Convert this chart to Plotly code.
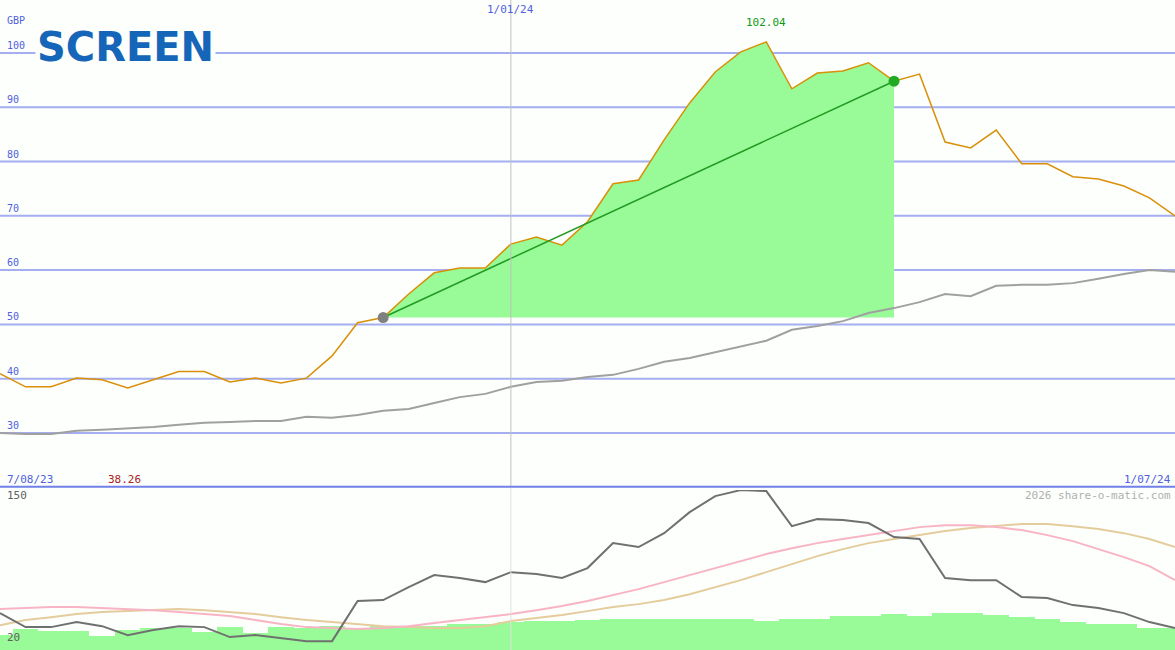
import pandas as pd
import plotly.graph_objects as go

dates = pd.date_range("2023-08-14", periods=47, freq="7D")

price = [40.9, 38.5, 38.5, 40.1, 39.8, 38.3, 39.8, 41.3, 41.3, 39.4, 40.1, 39.2, 40.1, 44.2, 50.3, 51.26,
         55.6, 59.5, 60.4, 60.4, 64.8, 66.1, 64.6, 68.9, 75.9, 76.6, 84.0, 90.8, 96.5, 100.2, 102.04,
         93.4, 96.3, 96.7, 98.2, 94.8, 96.1, 83.6, 82.5, 85.8, 79.6, 79.6, 77.2, 76.8, 75.5, 73.3, 70.0]
avg = [30.0, 29.8, 29.8, 30.4, 30.6, 30.8, 31.1, 31.5, 31.9, 32.0, 32.2, 32.2, 33.0, 32.8, 33.3, 34.1,
       34.4, 35.5, 36.6, 37.2, 38.5, 39.4, 39.6, 40.3, 40.7, 41.8, 43.1, 43.8, 44.9, 45.9, 47.0,
       49.0, 49.7, 50.6, 52.1, 53.0, 54.1, 55.6, 55.2, 57.1, 57.3, 57.3, 57.6, 58.4, 59.3, 60.0, 59.7]
osc = [50.0, 38.6, 38.6, 42.7, 39.4, 32.1, 36.2, 39.4, 38.6, 30.5, 32.1, 29.7, 27.2, 27.2, 59.8, 60.6,
       71.1, 80.9, 78.5, 75.2, 83.3, 81.7, 78.5, 86.6, 106.9, 103.7, 115.0, 132.1, 145.1, 150.0, 149.2,
       120.7, 126.4, 125.6, 123.2, 111.8, 110.2, 78.5, 76.8, 76.8, 63.0, 62.2, 56.5, 54.1, 50.0, 42.7, 37.8]
osc_fast = [53.3, 54.1, 54.9, 54.9, 54.1, 53.3, 52.4, 50.8, 49.2, 47.6, 44.3, 41.1, 38.6, 37.8, 37.0, 37.8,
            39.4, 41.9, 44.3, 46.7, 49.2, 52.4, 55.7, 59.8, 64.6, 69.5, 75.2, 80.9, 86.6, 92.3, 98.0,
            102.8, 106.9, 110.2, 113.4, 116.7, 119.9, 121.5, 121.5, 119.9, 117.5, 113.4, 108.5, 102.0, 95.5, 88.2, 76.8]
osc_slow = [40.2, 44.3, 46.7, 49.2, 50.8, 51.6, 52.4, 53.3, 52.4, 50.8, 49.2, 46.7, 44.3, 42.7, 41.1, 39.4,
            38.6, 37.8, 37.8, 39.4, 43.5, 45.9, 48.4, 51.6, 54.9, 57.3, 60.6, 65.4, 71.1, 76.8, 83.3,
            89.8, 96.3, 102.0, 106.9, 110.2, 113.4, 116.7, 119.1, 120.7, 122.4, 122.4, 120.7, 118.3, 115.0, 110.2, 103.7]
volume = [32.1, 37.0, 35.4, 35.4, 31.3, 36.2, 37.8, 37.8, 34.5, 38.6, 33.7, 38.6, 37.8, 39.4, 37.8, 39.4,
          39.4, 39.4, 41.1, 41.1, 42.7, 43.5, 43.5, 44.3, 45.1, 45.1, 45.1, 45.1, 45.1, 45.1, 43.5,
          45.1, 45.1, 47.6, 47.6, 49.2, 47.6, 50.0, 50.0, 48.4, 46.7, 45.1, 42.7, 41.1, 41.1, 37.8, 37.8]
buy_i, sell_i = 15, 35
grid_vals = [30, 40, 50, 60, 70, 80, 90, 100]

MONO = "DejaVu Sans Mono"
fig = go.Figure()

# lower panel
fig.add_trace(go.Bar(x=dates, y=[v - 20 for v in volume], base=20, marker_color="#98fb98",
                     marker_line_width=0, yaxis="y2"))
fig.add_trace(go.Scatter(x=dates, y=osc_slow, mode="lines", line=dict(color="#e4cc9c", width=2), yaxis="y2"))
fig.add_trace(go.Scatter(x=dates, y=osc_fast, mode="lines", line=dict(color="#f8b4c4", width=2), yaxis="y2"))
fig.add_trace(go.Scatter(x=dates, y=osc, mode="lines", line=dict(color="#707070", width=2), yaxis="y2"))

# main panel
seg = slice(buy_i, sell_i + 1)
fig.add_trace(go.Scatter(x=dates[seg], y=[price[buy_i]] * (sell_i - buy_i + 1), mode="lines",
                         line=dict(width=0), hoverinfo="skip"))
fig.add_trace(go.Scatter(x=dates[seg], y=price[seg], mode="lines", fill="tonexty",
                         fillcolor="#98fb98", line=dict(width=0)))
fig.add_trace(go.Scatter(x=dates, y=avg, mode="lines", line=dict(color="#a0a0a0", width=2)))
fig.add_trace(go.Scatter(x=dates, y=price, mode="lines", line=dict(color="#d99008", width=1.5)))
fig.add_trace(go.Scatter(x=[dates[buy_i], dates[sell_i]], y=[price[buy_i], price[sell_i]],
                         mode="lines+markers", line=dict(color="#229922", width=1.5),
                         marker=dict(size=11, color=["#808080", "#22aa22"])))

shapes = [dict(type="line", xref="paper", yref="y", x0=0, x1=1, y0=g, y1=g,
               line=dict(color="#a4aef0", width=2), layer="below") for g in grid_vals]
shapes.append(dict(type="line", xref="x", yref="paper", x0=dates[20], x1=dates[20], y0=0.25, y1=1,
                   line=dict(color="#c0c0c0", width=1)))
shapes.append(dict(type="line", xref="x", yref="paper", x0=dates[20], x1=dates[20], y0=0, y1=0.25,
                   line=dict(color="#e0e0e0", width=1)))
shapes.append(dict(type="line", xref="paper", yref="paper", x0=0, x1=1, y0=0.251, y1=0.251,
                   line=dict(color="#7080e8", width=2)))

ann = []
for g in grid_vals:
    ann.append(dict(x=0.004, y=g, xref="paper", yref="y", text=str(g), showarrow=False,
                    xanchor="left", yanchor="bottom", font=dict(family=MONO, size=10, color="#5060e0")))


def note(x, y, text, color, xanchor="left", xref="paper", size=11):
    ann.append(dict(x=x, y=y, xref=xref, yref="paper", text=text, showarrow=False, xanchor=xanchor,
                    yanchor="middle", font=dict(family=MONO, size=size, color=color)))


note(0.004, 0.969, "GBP", "#5060e0", size=10)
note(dates[20], 0.986, "1/01/24", "#5060e0", xanchor="center", xref="x")
note(dates[30], 0.966, "102.04", "#119911", xanchor="center", xref="x")
note(0.004, 0.263, "7/08/23", "#5060e0")
note(0.09, 0.263, "38.26", "#aa2222")
note(0.998, 0.263, "1/07/24", "#5060e0", xanchor="right")
note(0.998, 0.237, "2026 share-o-matic.com", "#b0b0b0", xanchor="right")
note(0.004, 0.237, "150", "#606060")
note(0.004, 0.02, "20", "#606060")
ann.append(dict(x=0.03, y=0.927, xref="paper", yref="paper", text="<b>SCREEN</b>", showarrow=False,
                xanchor="left", yanchor="middle", bgcolor="#fcfffc",
                font=dict(family="DejaVu Sans", size=40, color="#1565b8")))

fig.update_layout(
    width=1175, height=650, margin=dict(l=0, r=0, t=0, b=0),
    paper_bgcolor="#fcfffc", plot_bgcolor="#fcfffc", showlegend=False, bargap=0,
    xaxis=dict(range=[dates[0], dates[-1]], visible=False),
    yaxis=dict(domain=[0.251, 1], range=[20.07, 109.76], visible=False),
    yaxis2=dict(domain=[0, 0.246], range=[20, 150], visible=False),
    shapes=shapes, annotations=ann,
)
fig.write_html("out.html", config={"displayModeBar": False},
               post_script="document.body.style.margin='0px';")
